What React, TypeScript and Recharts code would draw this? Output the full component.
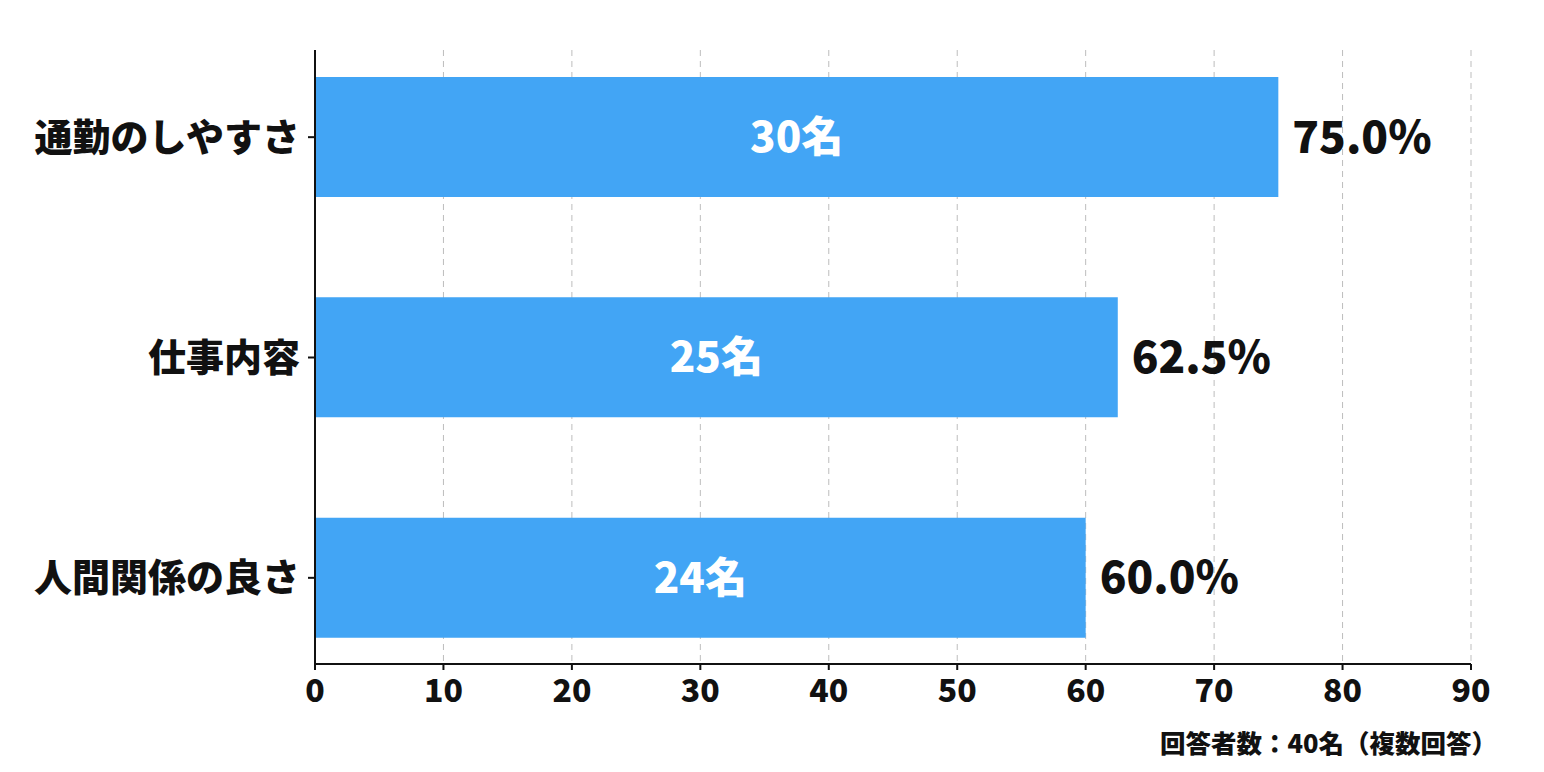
import { BarChart, Bar, XAxis, YAxis, CartesianGrid, LabelList } from "recharts"

// 回答データ
const categories = ["通勤のしやすさ", "仕事内容", "人間関係の良さ"]
const percents = [75.0, 62.5, 60.0]
const counts = [30, 25, 24]
const xTicks = [0, 10, 20, 30, 40, 50, 60, 70, 80, 90]
const note = "回答者数：40名（複数回答）"

const data = categories.map((name, i) => ({ name, value: percents[i], count: counts[i] }))

const font = "'Noto Sans CJK JP', 'Noto Sans', sans-serif"

export default function App() {
  return (
    <div style={{ position: "relative", width: 1544, height: 772, fontFamily: font, background: "#fff" }}>
      <style>{`body{margin:0}`}</style>
      <BarChart
        width={1544}
        height={772}
        data={data}
        layout="vertical"
        margin={{ top: 50, right: 73, bottom: 68, left: 0 }}
      >
        <CartesianGrid horizontal={false} stroke="#bdbdbd" strokeDasharray="6 5" />
        <XAxis
          type="number"
          domain={[0, 90]}
          ticks={xTicks}
          height={40}
          axisLine={{ stroke: "#111", strokeWidth: 2 }}
          tickLine={{ stroke: "#111", strokeWidth: 2 }}
          tickSize={6}
          tickMargin={9}
          tick={{ fill: "#111", fontSize: 32, fontWeight: 900, fontFamily: font }}
        />
        <YAxis
          type="category"
          dataKey="name"
          width={315}
          padding={{ top: -23, bottom: -24 }}
          axisLine={{ stroke: "#111", strokeWidth: 2 }}
          tickLine={{ stroke: "#111", strokeWidth: 2 }}
          tickSize={7}
          tickMargin={8}
          tick={{ fill: "#111", fontSize: 38, fontWeight: 900, fontFamily: font }}
        />
        <Bar dataKey="value" fill="#42A5F5" barSize={120} isAnimationActive={false}>
          <LabelList
            dataKey="count"
            position="center"
            formatter={(v: number) => `${v}名`}
            style={{ fill: "#fff", fontSize: 42, fontWeight: 900, fontFamily: font }}
          />
          <LabelList
            dataKey="value"
            position="right"
            offset={14}
            formatter={(v: number) => `${v.toFixed(1)}%`}
            style={{ fill: "#111", fontSize: 44, fontWeight: 900, fontFamily: font }}
          />
        </Bar>
      </BarChart>
      <div
        style={{
          position: "absolute",
          right: 47,
          top: 726,
          fontSize: 25.5,
          fontWeight: 900,
          color: "#111",
          lineHeight: "32px",
          whiteSpace: "nowrap",
        }}
      >
        {note}
      </div>
    </div>
  )
}
